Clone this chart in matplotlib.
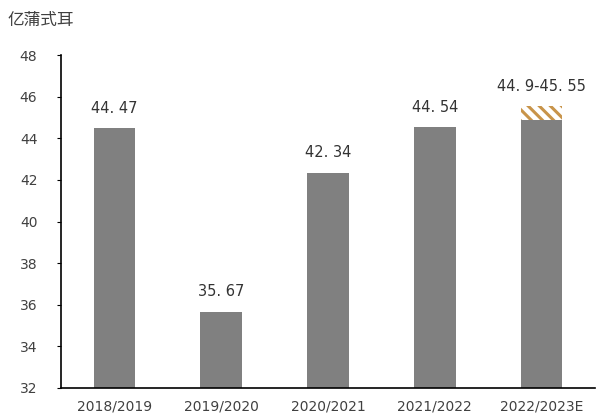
import matplotlib
matplotlib.use("Agg")
import matplotlib.pyplot as plt

# data
categories = ["2018/2019", "2019/2020", "2020/2021", "2021/2022", "2022/2023E"]
values = [44.47, 35.67, 42.34, 44.54, 44.9]
labels = ["44. 47", "35. 67", "42. 34", "44. 54", "44. 9-45. 55"]
est_low = 44.9
est_high = 45.55

plt.rcParams['font.family'] = ['DejaVu Sans']
plt.rcParams['hatch.linewidth'] = 2.2
plt.rcParams['hatch.color'] = '#C8944A'

fig = plt.figure(figsize=(6.08, 4.19), dpi=100)
ax = fig.add_axes([0.1003, 0.074, 0.8783, 0.7947])

x = list(range(len(categories)))
ax.bar(x, [v - 32 for v in values], bottom=32, width=0.39, color='#808080')

# estimated range on top of last bar
ax.bar(x[-1], est_high - est_low, bottom=est_low, width=0.39,
       facecolor='white', edgecolor='#C8944A', linewidth=0, hatch='\\\\\\')

tops = values[:-1] + [est_high]
for xi, t, lab in zip(x, tops, labels):
    ax.annotate(lab, (xi, t), xytext=(0, 9), textcoords='offset points',
                ha='center', va='bottom', fontsize=10.5, color='#333333')

ax.set_xlim(-0.5, len(categories) - 0.5)
ax.set_ylim(32, 48)
ax.set_yticks(range(32, 49, 2))
ax.set_xticks(x)
ax.set_xticklabels(categories)

ax.spines['top'].set_visible(False)
ax.spines['right'].set_visible(False)
ax.spines['left'].set_linewidth(1.2)
ax.spines['bottom'].set_linewidth(1.2)
ax.tick_params(axis='x', length=0, pad=8, labelsize=10, labelcolor='#404040')
ax.tick_params(axis='y', length=3, direction='out', pad=14, labelsize=10, labelcolor='#404040')

fig.text(0.013, 0.952, "亿蒲式耳", family=['Noto Sans CJK SC', 'DejaVu Sans'],
         fontsize=12, color='#404040', ha='left', va='center')

plt.savefig('out.png', dpi=100)
